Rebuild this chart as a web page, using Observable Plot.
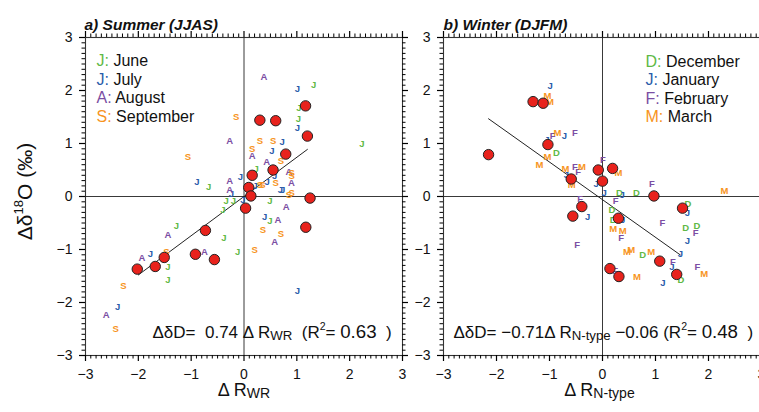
<!DOCTYPE html>
<html><head><meta charset="utf-8">
<script src="https://cdn.jsdelivr.net/npm/d3@7"></script>
<script src="https://cdn.jsdelivr.net/npm/@observablehq/plot@0.6"></script>
<style>
html,body{margin:0;padding:0;overflow:hidden;background:#fff;}
#wrap{position:relative;width:759px;height:412px;overflow:hidden;background:#fff;}
#wrap svg{position:absolute;top:0;}
#wrap text{white-space:pre;}
</style></head><body><div id="wrap"></div>
<script>
// ---------------- data ----------------
const summerCodes = ["J","J","A","S"];
const summerNames = ["June","July","August","September"];
const winterCodes = ["D","J","F","M"];
const winterNames = ["December","January","February","March"];
const axisTicks = [-3,-2,-1,0,1,2,3];

// monthly anomalies (letters), month index into codes/names
const summerX = [0.375,1.01,1.32,1.04,-0.15,1.03,1.01,-0.27,0.30,0.55,0.72,2.23,0.155,0.53,0.155,-1.06,0.43,0.70,0.23,0.85,0.90,0.90,0.90,-0.07,0.58,-0.27,-0.89,-0.67,-0.27,0.30,0.35,0.44,0.60,0.69,0.73,0.85,0.90,0.21,-0.24,-0.34,-0.20,0.49,-0.40,-0.02,0.80,0.39,0.49,0.64,0.36,0.70,0.58,-1.28,-1.44,-0.38,0.20,-0.12,-0.75,-1.47,-1.77,-1.93,-1.44,-1.44,-2.28,-2.39,-2.61,-2.43,1.01,-2.00];
const summerY = [2.26,2.03,2.11,1.67,1.51,1.47,1.29,1.04,1.04,1.04,1.03,0.99,0.89,0.85,0.76,0.74,0.66,0.68,0.52,0.47,0.45,0.38,0.25,0.37,0.38,0.30,0.28,0.18,0.13,0.21,0.21,0.27,0.26,0.13,0.13,0.02,0.06,0.20,0.04,-0.09,-0.09,-0.08,-0.25,-0.06,-0.20,-0.38,-0.46,-0.44,-0.64,-0.70,-0.86,-0.56,-0.73,-0.78,-1.00,-1.04,-1.05,-1.05,-1.08,-1.16,-1.32,-1.58,-1.68,-2.09,-2.24,-2.49,-1.79,-1.36];
const summerMonth = [2,1,0,0,3,0,1,2,3,3,1,0,3,1,2,3,2,3,0,2,3,3,2,1,1,2,1,0,2,3,3,1,3,1,1,3,3,1,1,0,0,0,0,1,2,1,0,2,3,3,2,0,2,0,3,0,2,3,1,2,0,0,3,1,2,3,1,1];
// seasonal anomalies (red circles)
const summerCircleX = [1.165,0.30,0.60,1.20,0.79,0.55,0.155,0.09,0.13,1.25,0.03,1.17,-0.73,-0.92,-0.56,-1.51,-1.68,-2.02];
const summerCircleY = [1.71,1.44,1.43,1.14,0.80,0.50,0.40,0.17,0.01,-0.03,-0.22,-0.58,-0.64,-1.09,-1.19,-1.15,-1.32,-1.37];

const winterX = [-0.99,-1.04,-0.99,-0.85,-0.94,-1.05,-0.72,-0.52,-0.87,-1.04,-1.19,-0.70,-0.52,-0.46,-0.39,-0.68,-0.58,0.01,-0.12,0.03,-0.42,-0.28,0.30,0.93,0.32,0.37,0.64,2.30,0.25,1.61,1.60,0.18,0.20,0.38,1.13,1.57,1.78,1.76,0.20,0.38,0.35,1.60,-0.48,0.46,0.54,0.92,0.76,1.47,1.33,1.31,0.24,1.79,1.92,0.65,1.48,1.14];
const winterY = [2.08,1.90,1.78,1.19,1.15,1.06,1.14,1.19,0.83,0.75,0.60,0.52,0.55,0.47,0.55,0.41,0.21,0.69,0.23,0.06,-0.04,-0.39,0.45,0.23,0.07,0.03,0.07,0.10,-0.09,-0.14,-0.31,-0.26,-0.45,-0.44,-0.50,-0.59,-0.55,-0.69,-0.61,-0.65,-0.78,-0.83,-0.91,-1.04,-1.01,-1.04,-1.11,-1.09,-1.24,-1.32,-1.40,-1.33,-1.47,-1.51,-1.58,-1.64];
const winterMonth = [1,3,3,3,2,1,1,2,0,3,3,3,2,2,3,1,3,2,1,1,2,1,3,2,0,1,0,3,2,0,1,0,0,1,2,0,0,2,3,3,2,1,2,3,3,3,0,1,2,1,2,2,3,3,0,1];
const winterCircleX = [-1.31,-1.12,-2.15,-1.03,-0.08,0.19,-0.59,0.0,-0.39,-0.56,0.97,1.51,0.30,1.08,0.14,0.31,1.40];
const winterCircleY = [1.79,1.76,0.79,0.98,0.50,0.53,0.33,0.29,-0.19,-0.37,0.01,-0.22,-0.41,-1.22,-1.36,-1.51,-1.47];

// regression fits
const summerFit = {slope: 0.74, intercept: 0.0, from: -2.0, to: 1.2};
const winterFit = {slope: -0.71, intercept: -0.06, from: -2.15, to: 1.47};

// ---------------- styles ----------------
const palette = ["#5fb946", "#2a5caa", "#7b4ea3", "#f7941d"];
const H = 412, MT = 37, MB = 57;

const minorTicks = d3.range(-30, 31).filter(d => d % 10 !== 0).map(d => d / 10);
const intFmt = d => (d < 0 ? "\u2212" + (-d) : String(d));

// outward ticks drawn as short rules on each side of the frame
function tickRules(values, len, fw, fh, withRight, sw) {
  const r = [
    Plot.ruleX(values, {insetTop: fh - len, dy: len, stroke: "black", strokeWidth: sw}),
    Plot.ruleX(values, {insetBottom: fh - len, dy: -len, stroke: "black", strokeWidth: sw}),
    Plot.ruleY(values, {insetRight: fw - len, dx: -len, stroke: "black", strokeWidth: sw})
  ];
  if (withRight) r.push(Plot.ruleY(values, {insetLeft: fw - len, dx: len, stroke: "black", strokeWidth: sw}));
  return r;
}

function panel(cfg) {
  const fw = cfg.width - cfg.ml - cfg.mr, fh = H - MT - MB;
  const pts = cfg.xs.map((x, i) => ({x, y: cfg.ys[i], m: cfg.ms[i]}));
  const circles = cfg.cx.map((x, i) => ({x, y: cfg.cy[i]}));
  const fitPts = [cfg.fit.from, cfg.fit.to].map(x => ({x, y: cfg.fit.slope * x + cfg.fit.intercept}));
  const marks = [
    Plot.frame({stroke: "#333", strokeWidth: 1.1}),
    ...tickRules(axisTicks, 6, fw, fh, cfg.withRight, 1.2),
    ...tickRules(minorTicks, 3.5, fw, fh, cfg.withRight, 1),
    Plot.ruleX([0], {stroke: "#222", strokeWidth: 0.9}),
    Plot.ruleY([0], {stroke: "#222", strokeWidth: 0.9}),
    Plot.line(fitPts, {x: "x", y: "y", stroke: "#222", strokeWidth: 1})
  ];
  palette.forEach((col, k) => {
    marks.push(Plot.text(pts.filter(d => d.m === k), {x: "x", y: "y", text: () => cfg.codes[k], fill: col, fontWeight: "bold", fontSize: 9.5}));
  });
  marks.push(
    Plot.dot(circles, {x: "x", y: "y", r: 5.2, fill: "#e8221c", stroke: "#222", strokeWidth: 1}),
    Plot.axisX({anchor: "bottom", ticks: axisTicks, tickSize: 0, tickPadding: 14, fontSize: 14, label: null, tickFormat: intFmt}),
    Plot.axisY({anchor: "left", ticks: axisTicks, tickSize: 0, tickPadding: 13, fontSize: 14, label: null, tickFormat: intFmt}),
    Plot.text([cfg.title], {frameAnchor: "top-left", textAnchor: "start", dx: cfg.titleDx, dy: -19, fontSize: 15.5, fontWeight: "bold", fontStyle: "italic"}),
    Plot.text([cfg.eq], {frameAnchor: "bottom-left", textAnchor: "start", dx: cfg.eqDx, dy: -18, fontSize: 17}),
    Plot.text([cfg.xlab], {frameAnchor: "bottom", textAnchor: "middle", dx: cfg.xlabDx, dy: 40, fontSize: 18})
  );
  cfg.codes.forEach((code, i) => {
    marks.push(Plot.text([`c${i}{${code}:} ${cfg.names[i]}`], {frameAnchor: "top-left", textAnchor: "start", dx: cfg.legDx, dy: cfg.legDy + i * 18.6, fontSize: 16}));
  });
  if (cfg.ylab) {
    marks.push(Plot.text([cfg.ylab], {frameAnchor: "left", textAnchor: "middle", lineAnchor: "middle", dx: -60, dy: -5, rotate: -90, fontSize: 21}));
  }
  const svg = Plot.plot({
    width: cfg.width, height: H,
    marginLeft: cfg.ml, marginRight: cfg.mr, marginTop: MT, marginBottom: MB,
    x: {domain: [-3, 3]}, y: {domain: [-3, 3]},
    style: {background: "white", overflow: "visible"},
    marks
  });
  svg.setAttribute("font-family", "Liberation Sans, Arial, Helvetica, sans-serif");
  svg.style.fontFamily = "'Liberation Sans', Arial, Helvetica, sans-serif";
  svg.style.color = "#111";
  return svg;
}

const left = panel({
  width: 420, ml: 85, mr: 18, withRight: true,
  xs: summerX, ys: summerY, ms: summerMonth, cx: summerCircleX, cy: summerCircleY, fit: summerFit,
  codes: summerCodes, names: summerNames,
  title: "a) Summer (JJAS)", titleDx: -1,
  eq: "ΔδD=  0.74 Δ R_{WR}  (R^{2}= *{0.63}  )", eqDx: 67,
  xlab: "Δ R_{WR}", xlabDx: 0,
  legDx: 11, legDy: 17.2,
  ylab: "Δδ^{18}O (‰)"
});
const right = panel({
  width: 341, ml: 23, mr: 0, withRight: false,
  xs: winterX, ys: winterY, ms: winterMonth, cx: winterCircleX, cy: winterCircleY, fit: winterFit,
  codes: winterCodes, names: winterNames,
  title: "b) Winter (DJFM)", titleDx: 0,
  eq: "ΔδD= −0.71Δ R_{N-type} −0.06 (R^{2}= *{0.48}  )", eqDx: 10,
  xlab: "Δ R_{N-type}", xlabDx: -3,
  legDx: 202, legDy: 17.8,
  ylab: null
});
const wrap = document.getElementById("wrap");
left.style.left = "0px";
right.style.left = "420px";
wrap.appendChild(left);
wrap.appendChild(right);

// rich text: _{sub} ^{sup} *{bigger} cN{colored}
function rich(el) {
  const s = el.textContent;
  const re = /(_|\^|\*|c\d)\{([^}]*)\}/g;
  if (!re.test(s)) return;
  re.lastIndex = 0;
  const fs = parseFloat(getComputedStyle(el).fontSize) || 14;
  const tokens = [];
  let last = 0, m;
  while ((m = re.exec(s))) {
    if (m.index > last) tokens.push({k: "", t: s.slice(last, m.index)});
    tokens.push({k: m[1], t: m[2]});
    last = re.lastIndex;
  }
  if (last < s.length) tokens.push({k: "", t: s.slice(last)});
  el.textContent = "";
  let shift = 0;
  tokens.forEach(tok => {
    const ts = document.createElementNS("http://www.w3.org/2000/svg", "tspan");
    let target = 0;
    if (tok.k === "_") { target = 0.14 * fs; ts.setAttribute("font-size", 0.78 * fs); }
    else if (tok.k === "^") { target = -0.42 * fs; ts.setAttribute("font-size", 0.62 * fs); }
    else if (tok.k === "*") { ts.setAttribute("font-size", 1.1 * fs); }
    else if (tok.k[0] === "c") { ts.setAttribute("fill", palette[+tok.k[1]]); }
    const d = target - shift;
    if (d) ts.setAttribute("dy", d);
    shift = target;
    ts.textContent = tok.t;
    el.appendChild(ts);
  });
}
wrap.querySelectorAll("text").forEach(rich);
</script></body></html>
